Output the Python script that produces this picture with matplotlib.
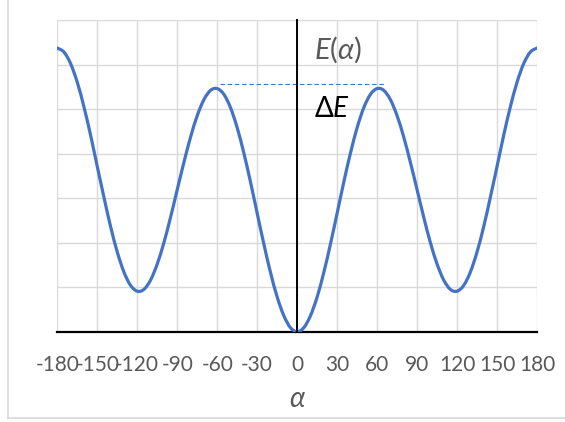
import matplotlib.pyplot as plt
import matplotlib as mpl
import numpy as np
from matplotlib.path import Path
from matplotlib.patches import PathPatch

# values, every 5 degrees
alpha = list(range(-180, 185, 5))
energy_pos = [0.00, 0.09, 0.36, 0.78, 1.33, 1.97, 2.66, 3.36, 4.01, 4.58, 5.03, 5.33, 5.46,
              5.42, 5.21, 4.85, 4.37, 3.80, 3.19, 2.57, 2.00, 1.52, 1.16, 0.95, 0.91,
              1.04, 1.34, 1.79, 2.36, 3.02, 3.71, 4.41, 5.05, 5.60, 6.02, 6.28, 6.37]
energy = energy_pos[:0:-1] + energy_pos

# barrier marker (dashed line)
barrier_level = 5.56
barrier_span = (-58, 66)

xticks = [-180, -150, -120, -90, -60, -30, 0, 30, 60, 90, 120, 150, 180]

plt.rcParams['font.family'] = ['Lato', 'DejaVu Sans']
plt.rcParams['mathtext.fontset'] = 'custom'
plt.rcParams['mathtext.rm'] = 'Lato'
plt.rcParams['mathtext.it'] = 'Lato:italic'


def smooth_path(x, y):
    # Excel-like smoothed line: cubic Bezier segments through the points
    pts = np.column_stack([x, y]).astype(float)
    verts = [pts[0]]
    codes = [Path.MOVETO]
    for i in range(len(pts) - 1):
        p0 = pts[i - 1] if i > 0 else pts[i]
        p1, p2 = pts[i], pts[i + 1]
        p3 = pts[i + 2] if i + 2 < len(pts) else pts[i + 1]
        verts += [p1 + (p2 - p0) / 6, p2 - (p3 - p1) / 6, p2]
        codes += [Path.CURVE4] * 3
    return Path(verts, codes)


fig = plt.figure(figsize=(5.65, 4.22), dpi=100, facecolor='white')
ax = fig.add_axes([57.3 / 565, 1 - 331.7 / 422, (537 - 57.3) / 565, (331.7 - 20) / 422])

ax.add_patch(PathPatch(smooth_path(alpha, energy), facecolor='none', edgecolor='#4472C4',
                       lw=2.3, capstyle='round', joinstyle='round', zorder=3))
ax.plot(barrier_span, [barrier_level, barrier_level], color='#4472C4', lw=0.8,
        dashes=(4, 2.5), zorder=2)

ax.set_xlim(-180, 180)
ax.set_ylim(0, 7)
ax.set_xticks(xticks)
ax.set_xticklabels([str(t) for t in xticks])
ax.set_yticks(range(0, 8))
ax.tick_params(axis='both', length=0)
ax.tick_params(axis='x', labelsize=15, colors='#595959', pad=17)
ax.tick_params(axis='y', labelleft=False)
ax.grid(True, color='#d9d9d9', lw=1.0)
ax.set_axisbelow(True)

for s in ['top', 'right']:
    ax.spines[s].set_visible(False)
ax.spines['left'].set_position(('data', 0))
ax.spines['left'].set_color('black')
ax.spines['left'].set_linewidth(1.4)
ax.spines['bottom'].set_color('black')
ax.spines['bottom'].set_linewidth(1.6)
ax.spines['left'].set_zorder(4)

ax.text(13, 6.33, r'$E(\alpha)$', fontsize=21, color='#595959', ha='left', va='center')
ax.text(13, 5.0, r'$\Delta E$', fontsize=20, color='black', ha='left', va='center')

fig.text(297 / 565, 1 - 399 / 422, r'$\alpha$', fontsize=20, color='#595959',
         ha='center', va='center')

# chart area border (only left and bottom visible in the reference)
fig.add_artist(mpl.lines.Line2D([8 / 565, 8 / 565], [1 - 418 / 422, 1.0],
                                color='#d9d9d9', lw=1.2))
fig.add_artist(mpl.lines.Line2D([8 / 565, 1.0], [1 - 418 / 422, 1 - 418 / 422],
                                color='#d9d9d9', lw=1.2))

fig.savefig('out.png', dpi=100, facecolor='white')
